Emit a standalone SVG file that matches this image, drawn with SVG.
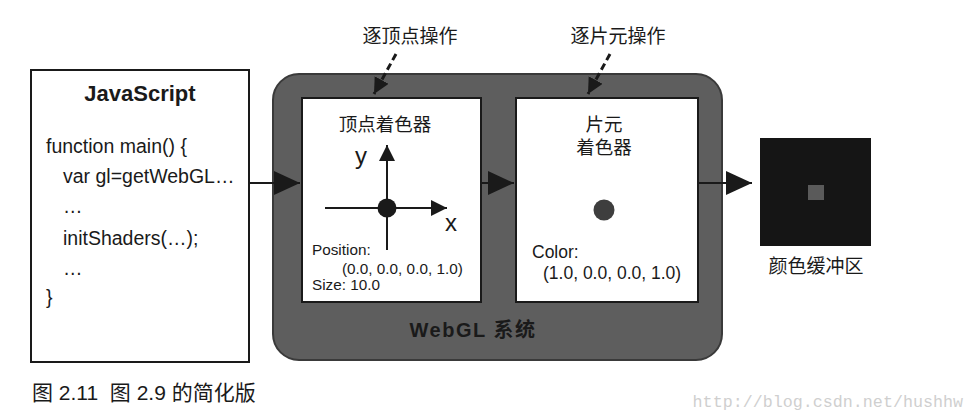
<svg xmlns="http://www.w3.org/2000/svg" width="975" height="420" viewBox="0 0 975 420">
<defs>
<style>
text{font-family:"Liberation Sans","Noto Sans CJK SC",sans-serif;fill:#1a1a1a}
.box{fill:#fff;stroke:#1a1a1a;stroke-width:2}
.code{font-size:19.5px}
.small{font-size:15.3px}
.cjk{font-size:18.5px}
.line{stroke:#1a1a1a;stroke-width:2;fill:none}
.dash{stroke:#1a1a1a;stroke-width:3;stroke-dasharray:7,4;fill:none}
.wm{font-family:"Liberation Mono",monospace;fill:#cfcfcf}
</style>
<marker id="ahBig" viewBox="0 0 10 10" refX="10" refY="5" markerWidth="26" markerHeight="24" markerUnits="userSpaceOnUse" orient="auto" preserveAspectRatio="none">
<path d="M0,0 L10,5 L0,10 z" fill="#1a1a1a"/>
</marker>
<marker id="ahMid" viewBox="0 0 10 10" refX="10" refY="5" markerWidth="16" markerHeight="16" markerUnits="userSpaceOnUse" orient="auto" preserveAspectRatio="none">
<path d="M0,0 L10,5 L0,10 z" fill="#1a1a1a"/>
</marker>
</defs>
<rect width="975" height="420" fill="#fff"/>

<g id="webgl-system">
<rect x="273" y="74" width="449" height="286" rx="26" fill="#5e5e5e" stroke="#3a3a3a" stroke-width="2"/>
<text x="473" y="337" text-anchor="middle" font-size="20" font-weight="bold" letter-spacing="1.5" fill="#1c1c1c">WebGL 系统</text>
</g>

<g id="javascript">
<rect class="box" x="31" y="70" width="218" height="292"/>
<text x="140" y="101" text-anchor="middle" font-size="22" font-weight="bold">JavaScript</text>
<text class="code" x="46" y="153">function main() {</text>
<text class="code" x="63" y="183">var gl=getWebGL…</text>
<text class="code" x="63" y="213">…</text>
<text class="code" x="63" y="245">initShaders(…);</text>
<text class="code" x="63" y="275">…</text>
<text class="code" x="46" y="304">}</text>
</g>

<g id="vertex-shader">
<rect class="box" x="302" y="98" width="179" height="204"/>
<text class="cjk" x="385" y="131" text-anchor="middle">顶点着色器</text>
<line class="line" x1="387" y1="250" x2="387" y2="145" marker-end="url(#ahMid)"/>
<line class="line" x1="325" y1="208" x2="447" y2="208" marker-end="url(#ahMid)"/>
<circle cx="387" cy="208" r="9.5" fill="#1a1a1a"/>
<text x="361" y="164" text-anchor="middle" font-size="24">y</text>
<text x="451" y="231" text-anchor="middle" font-size="24">x</text>
<text class="small" x="312" y="255">Position:</text>
<text class="small" x="342" y="274">(0.0, 0.0, 0.0, 1.0)</text>
<text class="small" x="312" y="290">Size: 10.0</text>
</g>

<g id="fragment-shader">
<rect class="box" x="516" y="98" width="182" height="204"/>
<text class="cjk" x="604" y="131" text-anchor="middle">片元</text>
<text class="cjk" x="604" y="154" text-anchor="middle">着色器</text>
<circle cx="604" cy="210" r="10.5" fill="#3e3e3e"/>
<text x="532" y="258" font-size="17.5">Color:</text>
<text x="543" y="279" font-size="17.5">(1.0, 0.0, 0.0, 1.0)</text>
</g>

<g id="color-buffer">
<rect x="760" y="138" width="111" height="108" fill="#151515"/>
<rect x="808" y="185" width="16" height="15" fill="#5a5a5a"/>
<text x="816" y="273" text-anchor="middle" font-size="19">颜色缓冲区</text>
</g>

<g id="labels">
<text x="410" y="43" text-anchor="middle" font-size="19">逐顶点操作</text>
<text x="618" y="43" text-anchor="middle" font-size="19">逐片元操作</text>
</g>

<g id="connectors">
<line class="line" x1="249" y1="183" x2="300" y2="183" marker-end="url(#ahBig)"/>
<line class="line" x1="481" y1="183" x2="514" y2="183" marker-end="url(#ahBig)"/>
<line class="line" x1="698" y1="183" x2="752" y2="183" marker-end="url(#ahBig)"/>
<line class="dash" x1="396" y1="54" x2="374" y2="94" marker-end="url(#ahMid)"/>
<line class="dash" x1="610" y1="54" x2="588" y2="94" marker-end="url(#ahMid)"/>
</g>

<g id="caption">
<text x="32" y="400" font-size="21" xml:space="preserve">图 2.11  图 2.9 的简化版</text>
<text class="wm" x="963" y="407" text-anchor="end" font-size="16.7">http://blog.csdn.net/hushhw</text>
</g>
</svg>
